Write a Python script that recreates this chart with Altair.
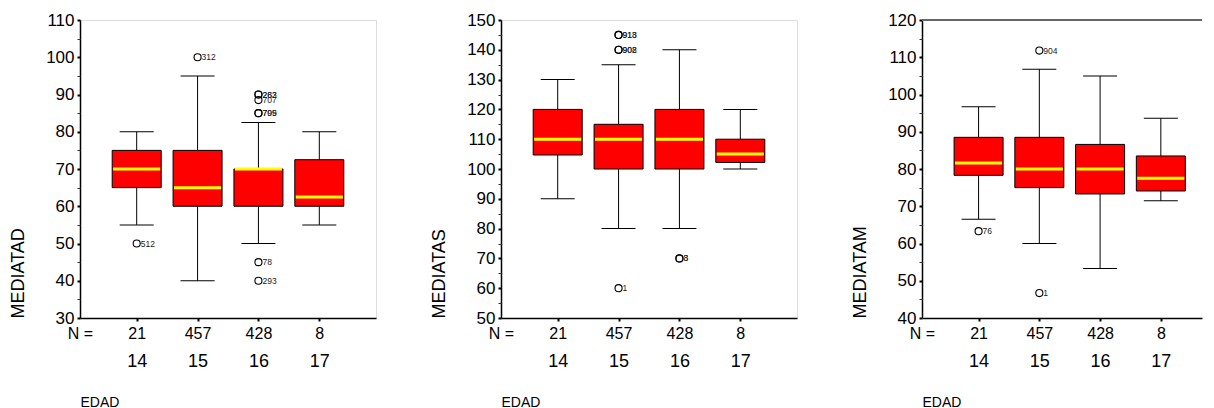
import altair as alt
import pandas as pd

ages = [14, 15, 16, 17]
counts = ["21", "457", "428", "8"]

# MEDIATAD
tad_low = [55, 40, 50, 55]
tad_q1 = [65, 60, 60, 60]
tad_med = [70, 65, 70, 62.5]
tad_q3 = [75, 75, 70, 72.5]
tad_high = [80, 95, 82.5, 80]
tad_out_age = [14, 15, 16, 16, 16, 16, 16, 16, 16]
tad_out_val = [50, 100, 90, 90, 88.5, 85, 85, 45, 40]
tad_out_id = ["512", "312", "283", "262", "707", "795", "709", "78", "293"]

# MEDIATAS
tas_low = [90, 80, 80, 100]
tas_q1 = [104.7, 100, 100, 102.2]
tas_med = [110, 110, 110, 105]
tas_q3 = [120, 115, 120, 110]
tas_high = [130, 135, 140, 120]
tas_out_age = [15, 15, 15, 15, 15, 16, 16]
tas_out_val = [145, 145, 140, 140, 60, 70, 70]
tas_out_id = ["913", "918", "902", "908", "1", "8", "3"]

# MEDIATAM
tam_low = [66.5, 60, 53.3, 71.5]
tam_q1 = [78.3, 75, 73.3, 74.1]
tam_med = [81.6, 80, 80, 77.5]
tam_q3 = [88.5, 88.5, 86.6, 83.5]
tam_high = [96.7, 106.8, 105, 93.6]
tam_out_age = [14, 15, 15]
tam_out_val = [63.3, 111.8, 46.7]
tam_out_id = ["76", "904", "1"]

FONT = "Liberation Sans"
count_map = "{" + ",".join(f"'{a}':'{c}'" for a, c in zip(ages, counts)) + "}"
STEP = 63.0        # pixels between categories
FIRST = 53.5       # pixel position of first category


def label_axis(values, title=None, domain=True):
    kw = dict(
        orient="left", values=values, labelOverlap=False,
        tickSize=3, tickColor="black", tickWidth=2,
        labelFontSize=17, labelPadding=3, labelColor="black",
        domain=domain, domainColor="black", domainWidth=1.5, grid=False,
    )
    if title:
        kw.update(title=title, titleX=-57, titleY=298, titleAngle=270, titleAlign="left",
                  titleBaseline="alphabetic", titleFontSize=18, titleFontWeight="normal",
                  titleColor="black")
    else:
        kw.update(title=None)
    return alt.Axis(**kw)


def panel(ytitle, ydom, low, q1, med, q3, high, oage, oval, oid, width=296, frame=True):
    df = pd.DataFrame({"age": ages, "low": low, "q1": q1, "med": med, "q3": q3, "high": high})
    odf = pd.DataFrame({"age": oage, "val": oval, "id": oid})
    lo = ages[0] - FIRST / STEP
    xs = alt.Scale(domain=[lo, lo + width / STEP], nice=False, zero=False)
    ys = alt.Scale(domain=ydom, nice=False, zero=False)
    tens = list(range(ydom[0], ydom[1] + 1, 10))
    yaxis = label_axis(tens[0::2], title=ytitle)
    yaxis_b = label_axis(tens[1::2], domain=False)
    minor_axis = alt.Axis(
        orient="left", values=list(range(ydom[0] + 5, ydom[1], 10)), labels=False,
        domain=False, grid=False, tickSize=3, tickColor="#333333", tickWidth=1, title=None,
    )
    xaxis = alt.Axis(
        orient="bottom", values=ages, labelExpr=f"{count_map}[datum.value]", labelAngle=0,
        labelAlign="center", labelBaseline="top", grid=False,
        tickSize=3, tickColor="black", tickWidth=2, labelPadding=4,
        labelFontSize=16, labelColor="black", domainColor="black", domainWidth=1.5,
        titleX=0, titleY=7, titleAlign="center", titleBaseline="top",
        titleFontSize=16, titleFontWeight="normal", titleColor="black",
    )
    cat_axis = alt.Axis(
        orient="bottom", values=ages, format="d", offset=27, ticks=False, domain=False,
        grid=False, labelFontSize=18, labelPadding=7, labelAngle=0, labelColor="black",
        labelAlign="center", labelBaseline="top",
        title="EDAD", titleX=0, titleY=50, titleAlign="left",
        titleBaseline="top", titleFontSize=14, titleFontWeight="normal", titleColor="black",
    )
    base = alt.Chart(df)
    X = alt.X("age:Q", scale=xs, title="N =")
    box = base.mark_bar(size=49, fill="#FF0000", stroke="#000000", strokeWidth=1,
                        opacity=1, orient="vertical").encode(
        x=alt.X("age:Q", scale=xs, axis=xaxis, title="N ="),
        y=alt.Y("q1:Q", scale=ys, axis=yaxis, title=ytitle),
        y2="q3:Q",
    )
    wlow = base.mark_rule(color="#000000", strokeWidth=1).encode(
        x=X, y=alt.Y("low:Q", title=ytitle), y2="q1:Q")
    whigh = base.mark_rule(color="#000000", strokeWidth=1).encode(
        x=X, y=alt.Y("q3:Q", title=ytitle), y2="high:Q")
    caplow = base.mark_tick(size=34, thickness=1, color="#000000", orient="horizontal", opacity=1).encode(
        x=X, y=alt.Y("low:Q", title=ytitle))
    caphigh = base.mark_tick(size=34, thickness=1, color="#000000", orient="horizontal", opacity=1).encode(
        x=X, y=alt.Y("high:Q", title=ytitle))
    median = base.mark_tick(size=47, thickness=3, color="#FFFF00", orient="horizontal", opacity=1).encode(
        x=X, y=alt.Y("med:Q", title=ytitle))
    pts = alt.Chart(odf).mark_point(shape="circle", size=50, filled=False, stroke="#000000",
                                    strokeWidth=1.1, opacity=1).encode(
        x=X, y=alt.Y("val:Q", title=ytitle))
    lbl = alt.Chart(odf).mark_text(align="left", baseline="middle", dx=4, fontSize=8.5,
                                   color="#222222").encode(
        x=X, y=alt.Y("val:Q", title=ytitle), text="id:N")
    inner = alt.layer(wlow, whigh, caplow, caphigh, box, median, pts, lbl)
    cat = base.mark_point(opacity=0).encode(
        x=alt.X("age:Q", scale=xs, axis=cat_axis),
        y=alt.Y("q1:Q", scale=ys, axis=None))
    mid = base.mark_point(opacity=0).encode(
        x=alt.X("age:Q", scale=xs, axis=None),
        y=alt.Y("q3:Q", scale=ys, axis=yaxis_b))
    minor = base.mark_point(opacity=0).encode(
        x=alt.X("age:Q", scale=xs, axis=None),
        y=alt.Y("med:Q", scale=ys, axis=minor_axis))
    layers = [inner, cat, mid, minor]
    props = dict(width=width, height=298)
    if not frame:
        topline = base.mark_rule(color="#666666", strokeWidth=2).encode(
            x=alt.value(0), x2=alt.value(width), y=alt.value(0))
        layers.append(topline)
        props["view"] = alt.ViewBackground(stroke="transparent")
    return alt.layer(*layers).resolve_axis(x="independent", y="independent").properties(**props)


p1 = panel("MEDIATAD", [30, 110], tad_low, tad_q1, tad_med, tad_q3, tad_high,
           tad_out_age, tad_out_val, tad_out_id)
p2 = panel("MEDIATAS", [50, 150], tas_low, tas_q1, tas_med, tas_q3, tas_high,
           tas_out_age, tas_out_val, tas_out_id)
p3 = panel("MEDIATAM", [40, 120], tam_low, tam_q1, tam_med, tam_q3, tam_high,
           tam_out_age, tam_out_val, tam_out_id, width=280, frame=False)

chart = alt.hconcat(p1, p2, p3, spacing=125, bounds="flush").configure_view(
    stroke="#666666", strokeWidth=2
).configure(font=FONT, background="white").properties(
    padding={"left": 0, "top": 2, "right": 0, "bottom": 0}
)

chart.save("out.html", embed_options={"renderer": "svg", "actions": False})
